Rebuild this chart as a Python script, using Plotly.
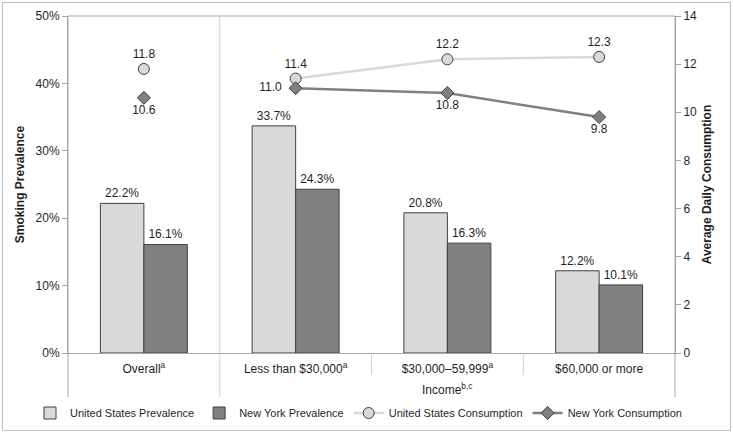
import plotly.graph_objects as go

categories = ["Overall<sup>a</sup>", "Less than $30,000<sup>a</sup>", "$30,000–59,999<sup>a</sup>", "$60,000 or more"]
us_prev = [0.222, 0.337, 0.208, 0.122]
ny_prev = [0.161, 0.243, 0.163, 0.101]
us_cons = [11.8, 11.4, 12.2, 12.3]
ny_cons = [10.6, 11.0, 10.8, 9.8]

xpos = list(range(len(categories)))

FONT = "Liberation Sans, Arial, sans-serif"
TXT = "#1f1f1f"
EDGE = "#404040"
NB = "\u00a0"

US_LINE = dict(color="#d9d9d9", width=2.5)
US_MK = dict(symbol="circle", size=11, color="#d9d9d9", line=dict(color=EDGE, width=1))
NY_LINE = dict(color="#808080", width=2.5)
NY_MK = dict(symbol="diamond", size=10, color="#808080", line=dict(color=EDGE, width=1))
TF = dict(size=12, color=TXT)

fig = go.Figure()
fig.add_trace(go.Bar(x=xpos, y=us_prev, name="United States Prevalence",
                     marker=dict(color="#d9d9d9", line=dict(color=EDGE, width=1)),
                     texttemplate="%{y:.1%}", textposition="outside",
                     textfont=TF, cliponaxis=False))
fig.add_trace(go.Bar(x=xpos, y=ny_prev, name="New York Prevalence",
                     marker=dict(color="#808080", line=dict(color=EDGE, width=1)),
                     texttemplate="%{y:.1%}", textposition="outside",
                     textfont=TF, cliponaxis=False))
# Overall points (not connected to the income lines)
fig.add_trace(go.Scatter(x=xpos[:1], y=us_cons[:1], yaxis="y2", mode="markers+text",
                         legendgroup="usc", showlegend=False, marker=US_MK,
                         text=[f"{v:.1f}" for v in us_cons[:1]], textposition="top center",
                         textfont=TF, cliponaxis=False))
fig.add_trace(go.Scatter(x=xpos[:1], y=ny_cons[:1], yaxis="y2", mode="markers+text",
                         legendgroup="nyc", showlegend=False, marker=NY_MK,
                         text=[f"{v:.1f}" for v in ny_cons[:1]], textposition="bottom center",
                         textfont=TF, cliponaxis=False))
# Income lines
fig.add_trace(go.Scatter(x=xpos[1:], y=us_cons[1:], name="United States Consumption", yaxis="y2",
                         legendgroup="usc", mode="lines+markers+text", line=US_LINE, marker=US_MK,
                         text=[f"{v:.1f}" for v in us_cons[1:]], textposition="top center",
                         textfont=TF, cliponaxis=False))
ny_text = [f"{v:.1f}" for v in ny_cons[1:]]
ny_text[0] = ny_text[0] + NB * 2
fig.add_trace(go.Scatter(x=xpos[1:], y=ny_cons[1:], name="New York Consumption", yaxis="y2",
                         legendgroup="nyc", mode="lines+markers+text", line=NY_LINE, marker=NY_MK,
                         text=ny_text, textposition=["middle left", "bottom center", "bottom center"],
                         textfont=TF, cliponaxis=False))

AX = "#a6a6a6"
H = 337.0
W = 607.0
def py(px):  # pixel offset below axis -> paper y
    return -px / H

shapes = [
    # outer border
    dict(type="rect", xref="paper", yref="paper", x0=(2.5 - 68) / W, x1=(730.5 - 68) / W,
         y0=-(430.5 - 353) / H, y1=(353 - 2.5) / H, line=dict(color="#bfbfbf", width=1)),
    # left and right axis extensions
    dict(type="line", xref="paper", yref="paper", x0=0, x1=0, y0=py(44), y1=1, line=dict(color=AX, width=1)),
    dict(type="line", xref="paper", yref="paper", x0=1, x1=1, y0=py(44), y1=1, line=dict(color=AX, width=1)),
    # separator between Overall and income
    dict(type="line", xref="x", yref="paper", x0=0.5, x1=0.5, y0=py(44), y1=1, line=dict(color="#d0d0d0", width=1)),
    # ticks between income categories
    dict(type="line", xref="x", yref="paper", x0=1.5, x1=1.5, y0=py(22), y1=0, line=dict(color="#d0d0d0", width=1)),
    dict(type="line", xref="x", yref="paper", x0=2.5, x1=2.5, y0=py(22), y1=0, line=dict(color="#d0d0d0", width=1)),
    # top border
    dict(type="line", xref="paper", yref="paper", x0=0, x1=1, y0=1, y1=1, line=dict(color=AX, width=1)),
]

fig.update_layout(
    width=733, height=433,
    margin=dict(l=68, r=58, t=16, b=80, autoexpand=False),
    paper_bgcolor="white", plot_bgcolor="white",
    font=dict(family=FONT, size=12, color=TXT),
    barmode="group", bargap=0.427, bargroupgap=0,
    xaxis=dict(range=[-0.5, 3.5], tickvals=xpos, ticktext=categories, showgrid=False,
               zeroline=False, showline=True, linecolor=AX, ticks="", ticklabelstandoff=5,
               tickfont=dict(size=12, color=TXT)),
    yaxis=dict(range=[0, 0.5], dtick=0.1, tickformat=".0%", showgrid=False, zeroline=False,
               showline=True, linecolor=AX, ticks="outside", ticklen=5, tickcolor=AX,
               title=dict(text="<b>Smoking Prevalence</b>", font=dict(size=12, color=TXT), standoff=8),
               tickfont=dict(size=12, color=TXT)),
    yaxis2=dict(range=[0, 14], dtick=2, overlaying="y", side="right", showgrid=False, zeroline=False,
                showline=True, linecolor=AX, ticks="outside", ticklen=5, tickcolor=AX,
                title=dict(text="<b>Average Daily Consumption</b>", font=dict(size=12, color=TXT), standoff=6),
                tickfont=dict(size=12, color=TXT)),
    legend=dict(orientation="h", x=(30 - 68) / W, xanchor="left", y=py(60), yanchor="middle",
                font=dict(size=11, color=TXT), traceorder="normal", tracegroupgap=0),
    shapes=shapes,
    annotations=[dict(text="Income<sup>b,c</sup>", x=2, xref="x", y=py(36), yref="paper",
                      showarrow=False, yanchor="middle", font=dict(size=12, color=TXT))],
    showlegend=True,
)

fig.write_html("out.html", config={"displayModeBar": False},
               post_script="document.body.style.margin='0px';")
